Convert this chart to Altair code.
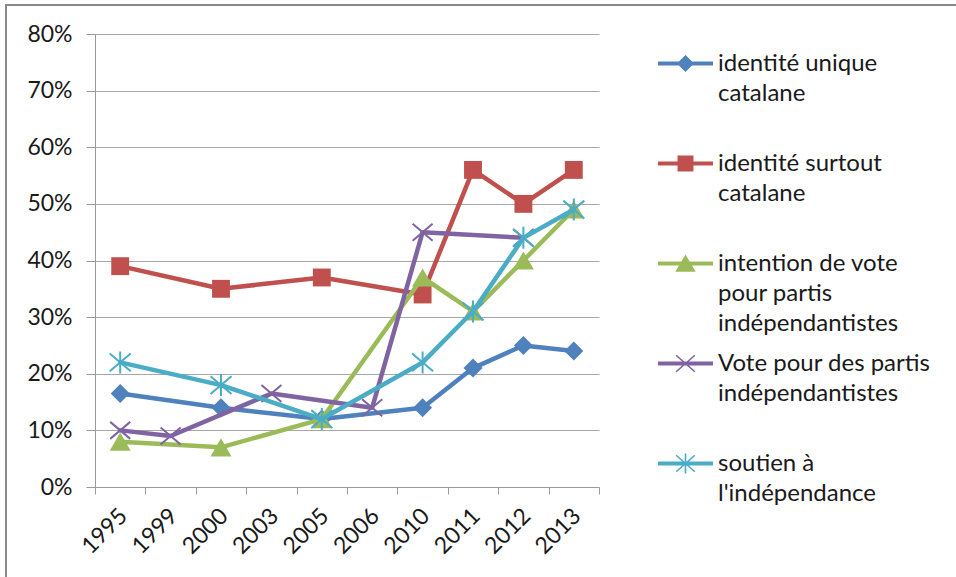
import altair as alt
import pandas as pd

# categories (survey years) and series
years = ["1995", "1999", "2000", "2003", "2005", "2006", "2010", "2011", "2012", "2013"]

series_names = [
    "identité unique catalane",
    "identité surtout catalane",
    "intention de vote pour partis indépendantistes",
    "Vote pour des partis indépendantistes",
    "soutien à l'indépendance",
]
legend_lines = [
    ["identité unique", "catalane"],
    ["identité surtout", "catalane"],
    ["intention de vote", "pour partis", "indépendantistes"],
    ["Vote pour des partis", "indépendantistes"],
    ["soutien à", "l'indépendance"],
]
colors = ["#4F81BD", "#C0504D", "#9BBB59", "#8064A2", "#4BACC6"]

# percentages per year (None = no value that year)
unique_cat = [16.5, None, 14, None, 12, None, 14, 21, 25, 24]
surtout_cat = [39, None, 35, None, 37, None, 34, 56, 50, 56]
intention_vote = [8, None, 7, None, 12, None, 37, 31, 40, 49]
vote_partis = [10, 9, None, 16.5, None, 14, 45, None, 44, None]
soutien = [22, None, 18, None, 12, None, 22, 31, 44, 49]

y_ticks = list(range(0, 81, 10))

all_values = [unique_cat, surtout_cat, intention_vote, vote_partis, soutien]
rows = []
for name, vals in zip(series_names, all_values):
    for yr, v in zip(years, vals):
        if v is not None:
            rows.append({"annee": yr, "serie": name, "pct": v})
df = pd.DataFrame(rows)

# plot markers: (shape, filled, size)
X_PATH = "M-1,-0.85L1,0.85M-1,0.85L1,-0.85"
STAR_PATH = X_PATH + "M0,-1.05L0,1.05"
markers = [
    ("diamond", True, 360),
    ("square", True, 320),
    ("triangle-up", True, 440),
    (X_PATH, False, 400),
    (STAR_PATH, False, 440),
]

# legend symbols: a line segment with the marker on it
LINE = "M-1,-0.07H1V0.07H-1Z"
X_FILL = ("M-0.36,-0.2775L-0.32,-0.3225L0.36,0.2775L0.32,0.3225Z"
          "M-0.32,0.3225L-0.36,0.2775L0.32,-0.3225L0.36,-0.2775Z")
legend_paths = [
    LINE + "M-0.31,0L0,-0.31L0.31,0L0,0.31Z",
    LINE + "M-0.29,-0.29H0.29V0.29H-0.29Z",
    LINE + "M0,-0.33L0.37,0.3L-0.37,0.3Z",
    LINE + X_FILL,
    LINE + X_FILL + "M-0.03,-0.36H0.03V0.36H-0.03Z",
]


def js_str(s):
    return '"' + s.replace('"', '\\"') + '"'


label_expr = ""
for name, lines in zip(series_names, legend_lines):
    arr = "[" + ",".join(js_str(l) for l in lines) + "]"
    label_expr += f"datum.label == {js_str(name)} ? {arr} : "
label_expr += "datum.label"

x_enc = alt.X(
    "annee:O",
    bandPosition=0.5,
    scale=alt.Scale(type="band", domain=years, paddingInner=0, paddingOuter=0),
    axis=alt.Axis(title=None, labelAngle=-45, labelAlign="right", labelBaseline="middle",
                  tickBand="extent", tickSize=7, labelPadding=18, labelOffset=3, grid=False),
)
y_enc = alt.Y(
    "pct:Q",
    scale=alt.Scale(domain=[0, 80], nice=False),
    axis=alt.Axis(title=None, values=y_ticks, labelExpr="datum.value + '%'",
                  tickSize=9, labelPadding=14, grid=True),
)

base = alt.Chart(df).encode(x=x_enc, y=y_enc)

# one line + marker pair per series, drawn in series order
layers = []
for name, color, (shape, filled, size) in zip(series_names, colors, markers):
    sub = base.transform_filter(alt.datum.serie == name)
    layers.append(sub.mark_line(color=color, strokeWidth=4.5, strokeJoin="round", strokeCap="round"))
    if filled:
        layers.append(sub.mark_point(shape=shape, filled=True, color=color, size=size,
                                     opacity=1, strokeWidth=0))
    else:
        layers.append(sub.mark_point(shape=shape, filled=False, color=color, size=size,
                                     opacity=1, strokeWidth=2))

legend_def = alt.Legend(
    title=None, orient="none", legendX=563, legendY=2, columns=1,
    symbolSize=3025, symbolStrokeWidth=0, symbolOpacity=1,
    labelFont="Lato", labelFontSize=24, labelColor="#1a1a1a", labelOffset=5,
    labelLimit=400, labelExpr=label_expr, gridAlign="all", rowPadding=0, padding=0,
)
# invisible marks carrying the legend (line + marker symbols)
legend_layer = (
    alt.Chart(df)
    .mark_point(filled=True, opacity=1, size=0, strokeWidth=0)
    .encode(
        color=alt.Color("serie:N", scale=alt.Scale(domain=series_names, range=colors),
                        legend=legend_def),
        shape=alt.Shape("serie:N", scale=alt.Scale(domain=series_names, range=legend_paths),
                        legend=legend_def),
    )
)

frame = alt.Chart(pd.DataFrame({"k": [0]})).mark_rect(
    fill=None, stroke="#8a8a8a", strokeWidth=2
).encode(x=alt.value(-89), x2=alt.value(1200), y=alt.value(-29), y2=alt.value(900))

chart = (
    alt.layer(*layers, legend_layer, frame)
    .properties(
        width=504, height=453,
        autosize="none",
        padding={"left": 95, "top": 34, "right": 357, "bottom": 90},
        background="white",
    )
    .configure(style={"guide-label": {"lineHeight": 30}})
    .configure_view(stroke=None)
    .configure_axis(
        labelFont="Lato", labelFontSize=23, labelColor="#1a1a1a",
        domainColor="#9a9a9a", tickColor="#9a9a9a", gridColor="#a6a6a6",
        domainWidth=1, tickWidth=1, gridWidth=1,
    )
)

chart.save("out.html", embed_options={"renderer": "svg", "actions": False})
